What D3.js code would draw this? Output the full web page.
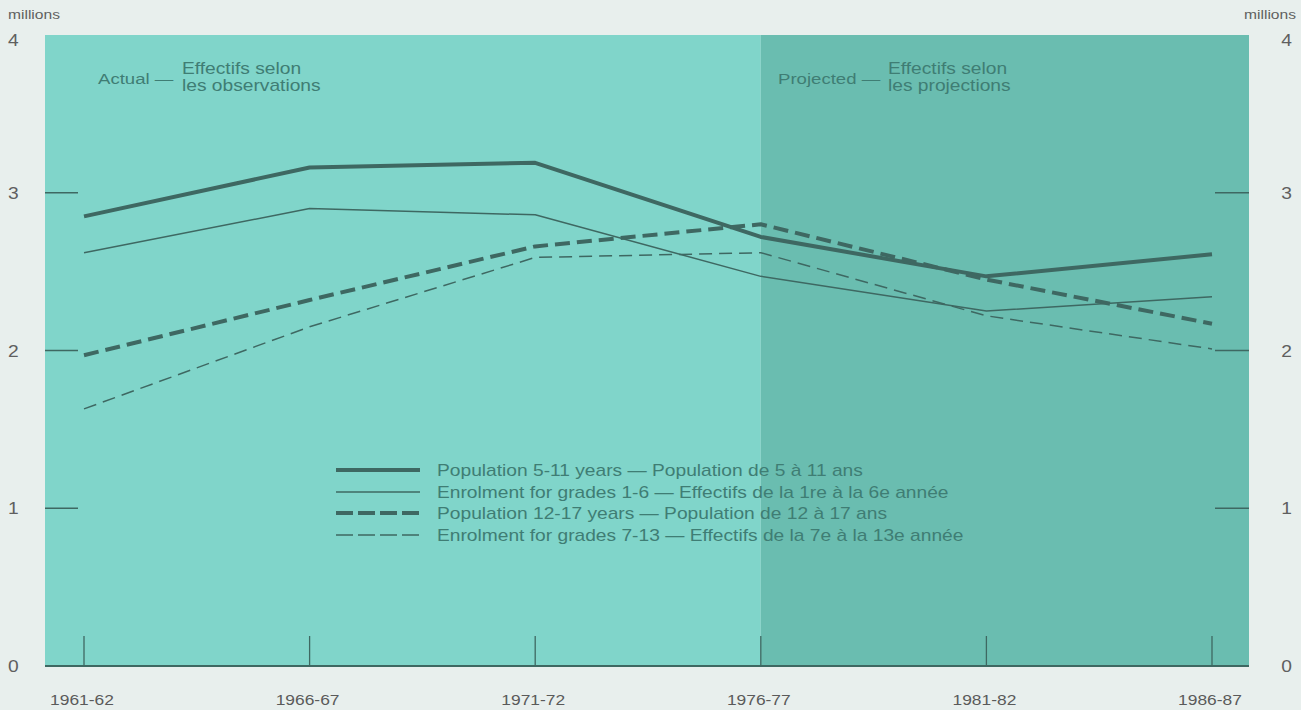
<!DOCTYPE html>
<html><head><meta charset="utf-8">
<script src="https://cdn.jsdelivr.net/npm/d3@7"></script>
<style>
body{margin:0;background:#e8efed;}
svg{display:block;font-family:"Liberation Sans",Arial,Helvetica,sans-serif;}
</style></head><body>
<svg id="c" width="1301" height="710"></svg>
<script>
const periods = ["1961-62","1966-67","1971-72","1976-77","1981-82","1986-87"];
const pop511 = [2.85, 3.16, 3.19, 2.72, 2.47, 2.61];
const enr16 = [2.62, 2.90, 2.86, 2.47, 2.25, 2.34];
const pop1217 = [1.97, 2.32, 2.66, 2.80, 2.45, 2.17];
const enr713 = [1.63, 2.15, 2.59, 2.62, 2.22, 2.01];
const yTicks = [0, 1, 2, 3, 4];
const projectedFrom = "1976-77";
const legendLabels = [
  "Population 5-11 years — Population de 5 à 11 ans",
  "Enrolment for grades 1-6 — Effectifs de la 1re à la 6e année",
  "Population 12-17 years — Population de 12 à 17 ans",
  "Enrolment for grades 7-13 — Effectifs de la 7e à la 13e année"
];

const svg = d3.select("#c");
const L = 45, R = 1249, T = 35, B = 666;
const x = d3.scalePoint().domain(periods).range([84, 1212]);
const y = d3.scaleLinear().domain([0, 4]).range([B, T]);

const lineCol = "#3e6862";
const textCol = "#3f7d74";
const greyCol = "#5f5f5f";
const SX = 1.2;

function txt(px, py, str, size, fill, anchor) {
  return svg.append("text")
    .attr("transform", `translate(${px},${py}) scale(${SX},1)`)
    .attr("font-size", size).attr("fill", fill)
    .attr("text-anchor", anchor || "start").text(str);
}

// panels
svg.append("rect").attr("x", L).attr("y", T).attr("width", x(projectedFrom) - L).attr("height", B - T).attr("fill", "#80d5ca");
svg.append("rect").attr("x", x(projectedFrom)).attr("y", T).attr("width", R - x(projectedFrom)).attr("height", B - T).attr("fill", "#6abdb0");

// baseline
svg.append("line").attr("x1", L).attr("x2", R).attr("y1", B).attr("y2", B).attr("stroke", lineCol).attr("stroke-width", 2);

// x ticks
periods.forEach(p => {
  svg.append("line").attr("x1", x(p)).attr("x2", x(p)).attr("y1", B - 30).attr("y2", B).attr("stroke", lineCol).attr("stroke-width", 1.3);
  txt(x(p) - 2, 705, p, 14.5, "#5a5a5a", "middle");
});

// y ticks both sides
yTicks.forEach(v => {
  if (v > 0 && v < 4) {
    svg.append("line").attr("x1", L).attr("x2", L + 33).attr("y1", y(v)).attr("y2", y(v)).attr("stroke", lineCol).attr("stroke-width", 1.3);
    svg.append("line").attr("x1", R - 34).attr("x2", R).attr("y1", y(v)).attr("y2", y(v)).attr("stroke", lineCol).attr("stroke-width", 1.3);
  }
  const yy = v === 4 ? 46 : y(v) + 6;
  txt(8, yy, v, 16, greyCol, "start");
  txt(1292, yy, v, 16, greyCol, "end");
});
txt(8, 19, "millions", 13, greyCol, "start");
txt(1296, 19, "millions", 13, greyCol, "end");

// panel labels
function panelLabel(x0, x1, main, l1, l2) {
  txt(x0, 84, main + " —", 15.5, textCol, "start");
  txt(x1, 74, l1, 16, textCol, "start");
  txt(x1, 91, l2, 16, textCol, "start");
}
panelLabel(98, 182, "Actual", "Effectifs selon", "les observations");
panelLabel(778, 888, "Projected", "Effectifs selon", "les projections");

// series
const series = [
  {vals: pop511, w: 4, dash: null},
  {vals: enr16, w: 1.5, dash: null},
  {vals: pop1217, w: 4, dash: "15,7"},
  {vals: enr713, w: 1.5, dash: "13,7"}
];
const line = d3.line().x((d, i) => x(periods[i])).y(d => y(d));
series.forEach(s => {
  svg.append("path").datum(s.vals).attr("d", line).attr("fill", "none")
    .attr("stroke", lineCol).attr("stroke-width", s.w)
    .attr("stroke-dasharray", s.dash).attr("stroke-linejoin", "round");
});

// legend
const ly = [470, 492, 513, 535];
const legDash = [null, null, "17,5", "17,5"];
series.forEach((s, i) => {
  svg.append("line").attr("x1", 336).attr("x2", 420).attr("y1", ly[i]).attr("y2", ly[i])
    .attr("stroke", lineCol).attr("stroke-width", s.w).attr("stroke-dasharray", legDash[i]);
  txt(437, ly[i] + 5.5, legendLabels[i], 16, textCol, "start");
});
</script>
</body></html>
